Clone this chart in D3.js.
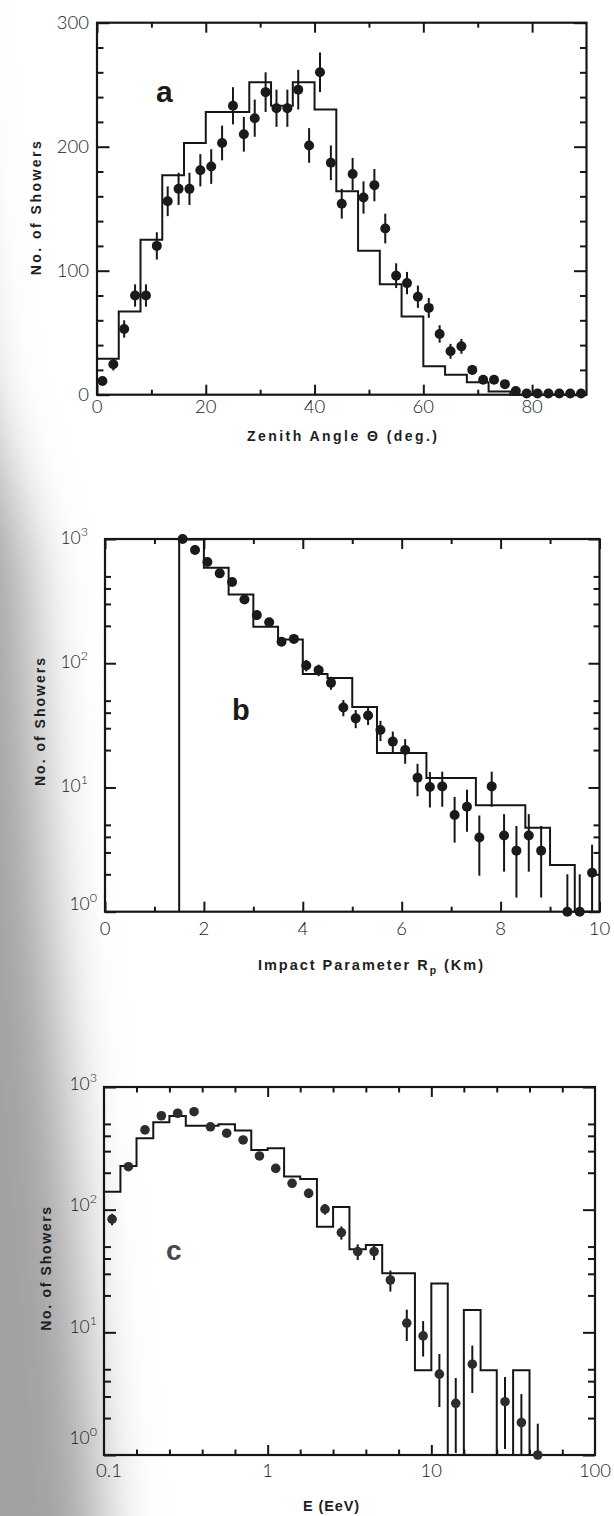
<!DOCTYPE html>
<html>
<head>
<meta charset="utf-8">
<script src="https://cdn.jsdelivr.net/npm/d3@7"></script>
<style>
  html, body { margin: 0; padding: 0; background: #ffffff; }
  svg { display: block; }
</style>
</head>
<body>
<svg id="fig" width="614" height="1516"></svg>
<script>
// ---------- (a) zenith angle distribution ----------
const zenithEdges = [0,4,8,12,16,20,24,28,32,36,40,44,48,52,56,60,64,68,72,76,80,84,88,90];
const zenithSim   = [29,67,125,177,203,228,228,252,233,252,230,164,116,89,63,23,16,10,2.5,0,0,0,0];
const zenithAngle = [1,3,5,7,9,11,13,15,17,19,21,23,25,27,29,31,33,35,37,39,41,43,45,47,49,51,53,55,57,59,61,63,65,67,69,71,73,75,77,79,81,83,85,87,89];
const zenithObs   = [11,24.5,53,80,80,120,156,166,166,181,184,203,233,210,223,244,231,231,246,201,260,187,154,178,159,169,134,96,90,79,70,49,35,39,20,12,12,8.5,3,1,1,1,1,1,1];
const zenithErr   = [3,5,7,9,9,11,12,13,13,13,14,14,15,14,15,16,15,15,16,14,16,14,12,13,13,13,12,10,9,9,8,7,6,6,4,3,3,3,2,1,1,1,1,1,1];
const zenithTicks = [0,20,40,60,80];
const zenithMinor = [10,30,50,70];
const countTicks  = [0,100,200,300];
const countMinor  = [20,40,60,80,120,140,160,180,220,240,260,280];

// ---------- (b) impact parameter distribution ----------
const rpEdges = [1.5,2,2.5,3,3.5,4,4.5,5,5.5,6,6.5,7,7.5,8,8.5,9,9.5,10];
const rpSim   = [990,588,358,197,155,82,76,44.5,18.9,18.9,11.9,11.9,7.2,7.2,4.75,2.38,0];
const rpKm    = [1.57,1.82,2.07,2.32,2.57,2.82,3.07,3.32,3.57,3.82,4.07,4.32,4.57,4.82,5.07,5.32,5.57,5.82,6.07,6.32,6.57,6.82,7.07,7.32,7.57,7.82,8.07,8.32,8.57,8.82,9.35,9.6,9.85];
const rpObs   = [1000,815,653,529,450,326,244,214,149,157,96,88,69.5,44,36,38,29,23.4,20,12,10.1,10.2,6.0,7.0,3.95,10.2,4.1,3.1,4.1,3.1,1,1,2.06];
const rpErr   = [32,29,26,23,21,18,16,15,12,12.5,10,9.4,8.3,6.6,6,6.2,5.4,4.8,4.5,3.5,3.2,3.2,2.4,2.6,2,3.2,2,1.8,2,1.8,1,1,1.4];
const rpTicks = [0,2,4,6,8,10];
const rpMinor = [1,3,5,7,9];

// ---------- (c) energy distribution ----------
const energyEdges = [0.1,0.126,0.158,0.2,0.251,0.316,0.398,0.501,0.631,0.794,1.0,1.26,1.58,2.0,2.51,3.16,3.98,5.01,6.31,7.94,10,12.6,15.8,20,25.1,31.6,39.8,50.1];
const energySim   = [140,227,382,515,580,484,484,497,441,307,316,186,178,72.6,105,47.5,51.5,30.3,30.3,4.9,25,0,15.2,4.9,0,4.9,0];
const energyEeV   = [0.112,0.141,0.178,0.224,0.282,0.355,0.447,0.562,0.708,0.891,1.12,1.41,1.78,2.24,2.82,3.55,4.47,5.62,7.08,8.91,11.2,14.1,17.8,28.2,35.5,44.7];
const energyObs   = [83.6,224,447,583,611,629,474,420,370,274,217,164,136,101,65,45.5,45.5,26.7,11.9,9.35,4.56,2.64,5.5,2.72,1.84,1];
const energyErr   = [9,15,21,24,25,25,22,20,19,17,15,13,12,10,8,6.7,6.7,5.2,3.4,3,2.1,1.6,2.3,1.6,1.3,0.8];
const energyLabels = [0.1,1,10,100];
const energyMajor  = [1,10];
const energyMinor  = [0.158,0.251,0.398,0.631,1.58,2.51,3.98,6.31,15.8,25.1,39.8,63.1];
const decadeTicks  = [1,10,100,1000];
const decadeMinor  = [2,3,4,5,20,30,40,50,200,300,400,500];

// ---------- drawing ----------
const INK = "#161616";
const NUM_FONT = "Lato, 'Noto Sans', sans-serif";
const TITLE_FONT = "'Liberation Sans', Arial, sans-serif";

const svg = d3.select("#fig");
const defs = svg.append("defs");

// shadow of the book gutter along the left margin
const gutter = defs.append("filter").attr("id", "gutterBlur")
  .attr("filterUnits", "userSpaceOnUse")
  .attr("x", -500).attr("y", -300).attr("width", 1200).attr("height", 2200);
gutter.append("feGaussianBlur").attr("stdDeviation", 30);
svg.append("path")
  .attr("d", "M-300,-200 L-70,-200 L-50,150 L-25,380 L28,560 L48,900 L70,1150 L100,1516 L110,1800 L-300,1800 Z")
  .attr("fill", "#a2a2a2")
  .attr("filter", "url(#gutterBlur)");

const boxA = {left: 97, right: 586.5, top: 22.7, bottom: 394.7};
const boxB = {left: 105, right: 599.5, top: 539, bottom: 911.7};
const boxC = {left: 104, right: 595, top: 1087, bottom: 1455};

const xA = d3.scaleLinear().domain([0, 90]).range([boxA.left, boxA.right]);
const yA = d3.scaleLinear().domain([0, 300]).range([boxA.bottom, boxA.top]);
const xB = d3.scaleLinear().domain([0, 10]).range([boxB.left, boxB.right]);
const yB = d3.scaleLog().domain([1, 1000]).range([boxB.bottom, boxB.top]);
const xC = d3.scaleLog().domain([0.1, 100]).range([boxC.left, boxC.right]);
const yC = d3.scaleLog().domain([1, 1000]).range([boxC.bottom, boxC.top]);

function noDomain(sel) { sel.select(".domain").remove(); }

// frame plus inward ticks on all four sides
function drawFrame(box, x, y, spec) {
  const g = svg.append("g").attr("stroke-width", 2).attr("color", INK);
  const tick = (axis, tx, ty) => g.append("g").attr("transform", `translate(${tx},${ty})`)
      .call(axis.tickFormat("").tickSizeOuter(0)).call(noDomain);
  tick(d3.axisBottom(x).tickValues(spec.xMajor).tickSize(-spec.xLen[0]), 0, box.bottom);
  tick(d3.axisBottom(x).tickValues(spec.xMinor).tickSize(-spec.xLen[1]), 0, box.bottom);
  tick(d3.axisBottom(x).tickValues(spec.xMajor).tickSize(spec.xLen[0]), 0, box.top);
  tick(d3.axisBottom(x).tickValues(spec.xMinor).tickSize(spec.xLen[1]), 0, box.top);
  tick(d3.axisLeft(y).tickValues(spec.yMajor).tickSize(-spec.yLen[0]), box.left, 0);
  tick(d3.axisLeft(y).tickValues(spec.yMinor).tickSize(-spec.yLen[1]), box.left, 0);
  tick(d3.axisLeft(y).tickValues(spec.yMajor).tickSize(spec.yLen[0]), box.right, 0);
  tick(d3.axisLeft(y).tickValues(spec.yMinor).tickSize(spec.yLen[1]), box.right, 0);
  g.append("rect")
    .attr("x", box.left).attr("y", box.top)
    .attr("width", box.right - box.left).attr("height", box.bottom - box.top)
    .attr("fill", "none").attr("stroke", INK).attr("stroke-width", 2.2);
}

// simulated histogram as a stepped outline
function drawSteps(edges, vals, x, y, floorY) {
  const yy = v => (v > 0 ? y(v) : floorY);
  let d = `M${x(edges[0])},${floorY}`;
  vals.forEach((v, i) => {
    d += `L${x(edges[i])},${yy(v)}L${x(edges[i + 1])},${yy(v)}`;
  });
  d += `L${x(edges[edges.length - 1])},${floorY}`;
  svg.append("path").attr("d", d)
    .attr("fill", "none").attr("stroke", INK).attr("stroke-width", 2)
    .attr("stroke-linejoin", "miter");
}

// measured points with error bars
function drawPoints(xs, vs, es, x, y, floorY, r, fill) {
  const g = svg.append("g");
  const lo = (v, e) => (v - e > y.domain()[0] ? y(v - e) : floorY);
  g.selectAll("line").data(xs).join("line")
    .attr("x1", d => x(d)).attr("x2", d => x(d))
    .attr("y1", (d, i) => lo(vs[i], es[i]))
    .attr("y2", (d, i) => y(vs[i] + es[i]))
    .attr("stroke", INK).attr("stroke-width", 2);
  g.selectAll("circle").data(xs).join("circle")
    .attr("cx", d => x(d)).attr("cy", (d, i) => y(vs[i]))
    .attr("r", r).attr("fill", fill);
}

function numLabel(txt, px, py, anchor) {
  svg.append("text").attr("x", px).attr("y", py)
    .attr("text-anchor", anchor)
    .attr("font-family", NUM_FONT).attr("font-weight", 300)
    .attr("font-size", 18.5).attr("fill", "#222")
    .text(txt);
}

function powerLabel(exp, right, midY) {
  const t = svg.append("text").attr("x", right).attr("y", midY + 6)
    .attr("text-anchor", "end")
    .attr("font-family", NUM_FONT).attr("font-weight", 300)
    .attr("font-size", 17.5).attr("fill", "#222");
  t.append("tspan").text("10");
  t.append("tspan").attr("dy", -8).attr("font-size", 12.5).text(exp);
}

// spread a title's letters until it covers the wanted width
function fitWidth(t, width) {
  const node = t.node();
  const natural = node.getComputedTextLength();
  const n = node.textContent.length;
  t.attr("letter-spacing", Math.max(0, (width - natural) / (n - 1)));
}

function title(txt, px, py, size, width, rotate) {
  const t = svg.append("text")
    .attr("font-family", TITLE_FONT).attr("font-weight", "bold")
    .attr("font-size", size).attr("fill", "#1e1e1e");
  if (rotate) {
    t.attr("transform", `translate(${px},${py}) rotate(-90)`);
  } else {
    t.attr("x", px).attr("y", py);
  }
  t.text(txt);
  fitWidth(t, width);
  if (rotate) {
    const w = t.node().getBBox().width;
    t.attr("transform", `translate(${px},${py + w / 2}) rotate(-90)`);
  }
  return t;
}

function panelLetter(ch, px, py, size, fill) {
  svg.append("text").attr("x", px).attr("y", py)
    .attr("font-family", TITLE_FONT).attr("font-weight", "bold")
    .attr("font-size", size).attr("fill", fill).text(ch);
}

// ----- panel a -----
drawFrame(boxA, xA, yA, {
  xMajor: zenithTicks, xMinor: zenithMinor, xLen: [10, 5],
  yMajor: countTicks, yMinor: countMinor, yLen: [12.5, 6.5]
});
drawSteps(zenithEdges, zenithSim, xA, yA, boxA.bottom);
drawPoints(zenithAngle, zenithObs, zenithErr, xA, yA, boxA.bottom, 5, "#1a1a1a");
zenithTicks.forEach(v => numLabel(String(v), xA(v), 413, "middle"));
countTicks.forEach(v => numLabel(String(v), 89, yA(v) + 6.5, "end"));
title("Zenith Angle \u0398 (deg.)", 247, 441, 14, 190, false);
title("No. of Showers", 41, 207, 14, 134, true);
panelLetter("a", 156, 102, 30, "#1a1a1a");

// ----- panel b -----
drawFrame(boxB, xB, yB, {
  xMajor: rpTicks, xMinor: rpMinor, xLen: [10, 5],
  yMajor: decadeTicks, yMinor: decadeMinor, yLen: [11, 6]
});
drawSteps(rpEdges, rpSim, xB, yB, boxB.bottom);
drawPoints(rpKm, rpObs, rpErr, xB, yB, boxB.bottom, 5, "#1a1a1a");
rpTicks.forEach(v => numLabel(String(v), xB(v), 935, "middle"));
decadeTicks.forEach(v => {
  const e = Math.round(Math.log10(v));
  if (e === 0) powerLabel(e, 97, yB(v) - 8);
  else powerLabel(e, 88, yB(v) - 1);
});
{
  const t = svg.append("text").attr("x", 258).attr("y", 970)
    .attr("font-family", TITLE_FONT).attr("font-weight", "bold")
    .attr("font-size", 14.5).attr("fill", "#1e1e1e");
  t.append("tspan").text("Impact Parameter R");
  t.append("tspan").attr("dy", 4).attr("font-size", 10.5).text("p");
  t.append("tspan").attr("dy", -4).text(" (Km)");
  fitWidth(t, 225);
}
title("No. of Showers", 45, 721, 14, 128, true);
panelLetter("b", 232, 720, 29, "#1a1a1a");

// ----- panel c -----
drawFrame(boxC, xC, yC, {
  xMajor: energyMajor, xMinor: energyMinor, xLen: [10, 5.5],
  yMajor: decadeTicks, yMinor: decadeMinor, yLen: [12, 7]
});
drawSteps(energyEdges, energySim, xC, yC, boxC.bottom);
drawPoints(energyEeV, energyObs, energyErr, xC, yC, boxC.bottom, 4.8, "#2c2c2c");
energyLabels.forEach(v => numLabel(v < 1 ? "0.1" : String(v), xC(v) + (v < 1 ? 5 : 0), 1477, "middle"));
decadeTicks.forEach(v => {
  const e = Math.round(Math.log10(v));
  const lift = e === 0 ? 17 : (e === 3 ? 3 : 5);
  powerLabel(e, 97, yC(v) - lift);
});
{
  const t = svg.append("text").attr("x", 303).attr("y", 1511)
    .attr("font-family", TITLE_FONT).attr("font-weight", "bold")
    .attr("font-size", 14.5).attr("fill", "#1e1e1e");
  t.text("E (EeV)");
  fitWidth(t, 56);
}
title("No. of Showers", 51, 1268, 14, 124, true);
panelLetter("c", 166, 1260, 28, "#4a4a4a");
</script>
</body>
</html>
